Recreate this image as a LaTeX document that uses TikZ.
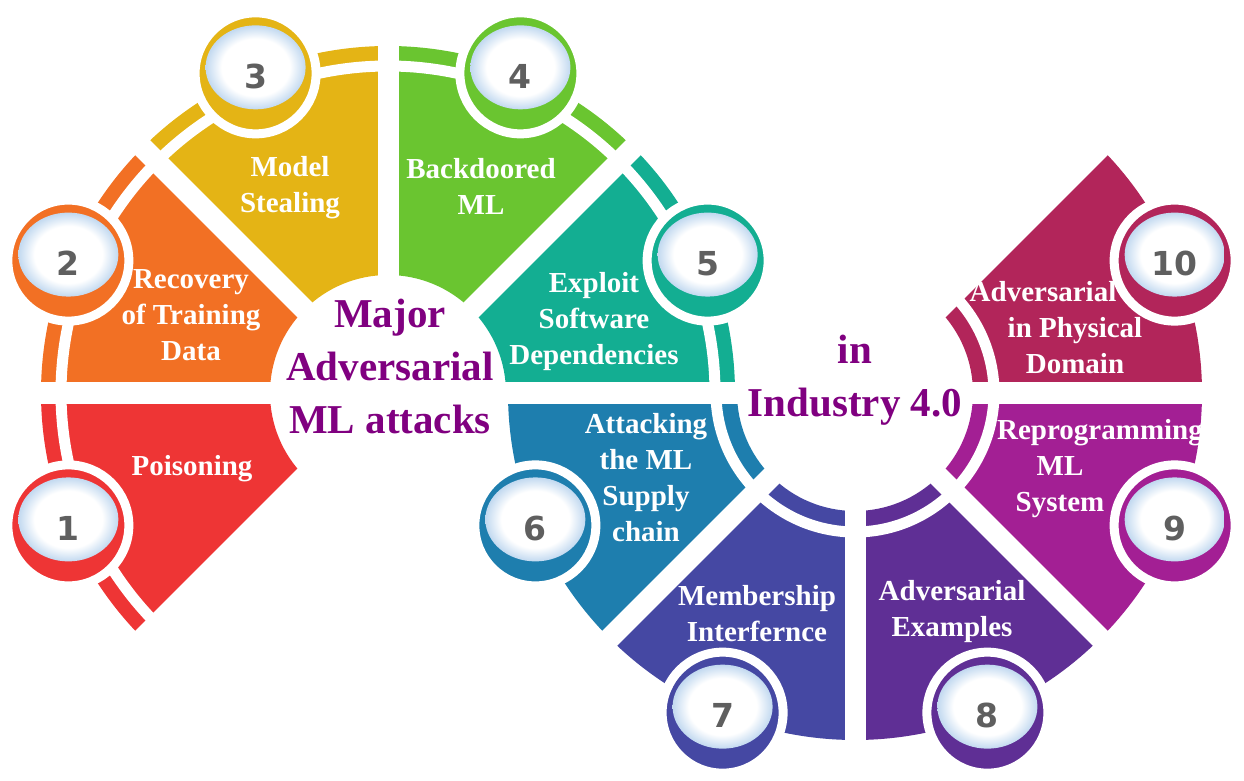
\documentclass[tikz,border=0pt]{standalone}
\usepackage{fontspec}
\setmainfont{Liberation Serif}
\newfontfamily\numfont{DejaVu Sans}
\usepackage{tikz}
\usetikzlibrary{calc, shapes.geometric}
\usepackage{xcolor}

\definecolor{cRed}{HTML}{EE3535}
\definecolor{cOrange}{HTML}{F27024}
\definecolor{cGold}{HTML}{E4B415}
\definecolor{cGreen}{HTML}{6AC530}
\definecolor{cTeal}{HTML}{13AE92}
\definecolor{cBlue}{HTML}{1E7EAE}
\definecolor{cIndigo}{HTML}{4548A3}
\definecolor{cPurple}{HTML}{5F2F95}
\definecolor{cMagenta}{HTML}{A31F94}
\definecolor{cCrimson}{HTML}{B2255A}
\definecolor{headpurple}{HTML}{800080}
\definecolor{numgray}{HTML}{5F5F5F}
\definecolor{lensblue}{HTML}{C2D9F0}

\pgfdeclareradialshading{lensglow}{\pgfpoint{0bp}{0bp}}{color(0bp)=(white); color(17bp)=(white); color(25bp)=(lensblue); color(50bp)=(lensblue)}

% one piece of a ring: centre, start angle, end angle, colour
\newcommand{\ringpart}[4]{%
  \fill[#4] ($(#1)+(#2:118)$) arc[start angle=#2, end angle=#3, radius=118]
    -- ($(#1)+(#3:347)$) arc[start angle=#3, end angle=#2, radius=347] -- cycle;}

\begin{document}
\begin{tikzpicture}[
  x=1pt, y=1pt,
  gap/.style={white, line width=21},
  stripe/.style={white, line width=11},
  badge/.style={circle, draw=white, line width=9, minimum size=121, inner sep=0},
  lens/.style={ellipse, shade, shading=lensglow, minimum width=100, minimum height=84, inner sep=0},
  num/.style={text=numgray, inner sep=0, font=\numfont\fontsize{33}{33}\selectfont\bfseries},
  lbl/.style={text=white, align=center, inner sep=0, font=\fontsize{29}{36}\selectfont\bfseries},
  heading/.style={text=headpurple, align=center, inner sep=0, font=\fontsize{41}{53}\selectfont\bfseries}
]
\useasboundingbox (0,0) rectangle (1244,780);
\coordinate (L) at (388,387);
\coordinate (R) at (855,387);

% left ring
\ringpart{L}{180}{225}{cRed}
\ringpart{L}{135}{180}{cOrange}
\ringpart{L}{90}{135}{cGold}
\ringpart{L}{45}{90}{cGreen}
\ringpart{L}{0}{45}{cTeal}
% right ring
\ringpart{R}{180}{225}{cBlue}
\ringpart{R}{225}{270}{cIndigo}
\ringpart{R}{270}{315}{cPurple}
\ringpart{R}{315}{360}{cMagenta}
\ringpart{R}{0}{45}{cCrimson}

% thin white stripes
\draw[stripe] ($(L)+(0:327)$) arc[start angle=0, end angle=225, radius=327];
\draw[stripe] ($(R)+(-180:139)$) arc[start angle=-180, end angle=45, radius=139];

% white gaps between the pieces
\draw[gap] (L) -- ++(0:380);   \draw[gap] (L) -- ++(45:380);  \draw[gap] (L) -- ++(90:380);
\draw[gap] (L) -- ++(135:380); \draw[gap] (L) -- ++(180:380); \draw[gap] (L) -- ++(225:380);
\draw[gap] (R) -- ++(180:380); \draw[gap] (R) -- ++(225:380); \draw[gap] (R) -- ++(270:380);
\draw[gap] (R) -- ++(315:380); \draw[gap] (R) -- ++(0:380);   \draw[gap] (R) -- ++(45:380);

% numbered badges
\node[badge, fill=cRed]      (b1)  at ($(L)+(202.5:346)$) {}; \node[lens] (e1)  at ([yshift=6]b1.center)  {}; \node[num] (n1)  at ([yshift=-3]b1.center)  {1};
\node[badge, fill=cOrange]   (b2)  at ($(L)+(157.5:346)$) {}; \node[lens] (e2)  at ([yshift=6]b2.center)  {}; \node[num] (n2)  at ([yshift=-3]b2.center)  {2};
\node[badge, fill=cGold]     (b3)  at ($(L)+(112.5:346)$) {}; \node[lens] (e3)  at ([yshift=6]b3.center)  {}; \node[num] (n3)  at ([yshift=-3]b3.center)  {3};
\node[badge, fill=cGreen]    (b4)  at ($(L)+(67.5:346)$)  {}; \node[lens] (e4)  at ([yshift=6]b4.center)  {}; \node[num] (n4)  at ([yshift=-3]b4.center)  {4};
\node[badge, fill=cTeal]     (b5)  at ($(L)+(22.5:346)$)  {}; \node[lens] (e5)  at ([yshift=6]b5.center)  {}; \node[num] (n5)  at ([yshift=-3]b5.center)  {5};
\node[badge, fill=cBlue]     (b6)  at ($(R)+(202.5:346)$) {}; \node[lens] (e6)  at ([yshift=6]b6.center)  {}; \node[num] (n6)  at ([yshift=-3]b6.center)  {6};
\node[badge, fill=cIndigo]   (b7)  at ($(R)+(247.5:346)$) {}; \node[lens] (e7)  at ([yshift=6]b7.center)  {}; \node[num] (n7)  at ([yshift=-3]b7.center)  {7};
\node[badge, fill=cPurple]   (b8)  at ($(R)+(292.5:346)$) {}; \node[lens] (e8)  at ([yshift=6]b8.center)  {}; \node[num] (n8)  at ([yshift=-3]b8.center)  {8};
\node[badge, fill=cMagenta]  (b9)  at ($(R)+(337.5:346)$) {}; \node[lens] (e9)  at ([yshift=6]b9.center)  {}; \node[num] (n9)  at ([yshift=-3]b9.center)  {9};
\node[badge, fill=cCrimson]  (b10) at ($(R)+(22.5:346)$)  {}; \node[lens] (e10) at ([yshift=6]b10.center) {}; \node[num] (n10) at ([yshift=-3]b10.center) {10};

% labels
\node[lbl] (t1)  at (192,311)  {Poisoning};
\node[lbl] (t2)  at (191,465)  {Recovery\\of Training\\Data};
\node[lbl] (t3)  at (290,592)  {Model\\Stealing};
\node[lbl] (t4)  at (481,594)  {Backdoored\\ML};
\node[lbl] (t5)  at (594,458)  {Exploit\\Software\\Dependencies};
\node[lbl] (t6)  at (646,302)  {Attacking\\the ML\\Supply\\chain};
\node[lbl] (t7)  at (757,166)  {Membership\\Interfernce};
\node[lbl] (t8)  at (952,168)  {Adversarial\\Examples};
\node[lbl] (t9)  at (1060,311) {\makebox[80pt]{}Reprogramming\\ML\\System};
\node[lbl] (t10) at (1075,452) {Adversarial\makebox[64pt]{}\\in Physical\\Domain};

\node[heading] (major)    at (390,414) {Major\\Adversarial\\ML attacks};
\node[heading] (industry) at (855,400) {in\\Industry 4.0};
\end{tikzpicture}
\end{document}
